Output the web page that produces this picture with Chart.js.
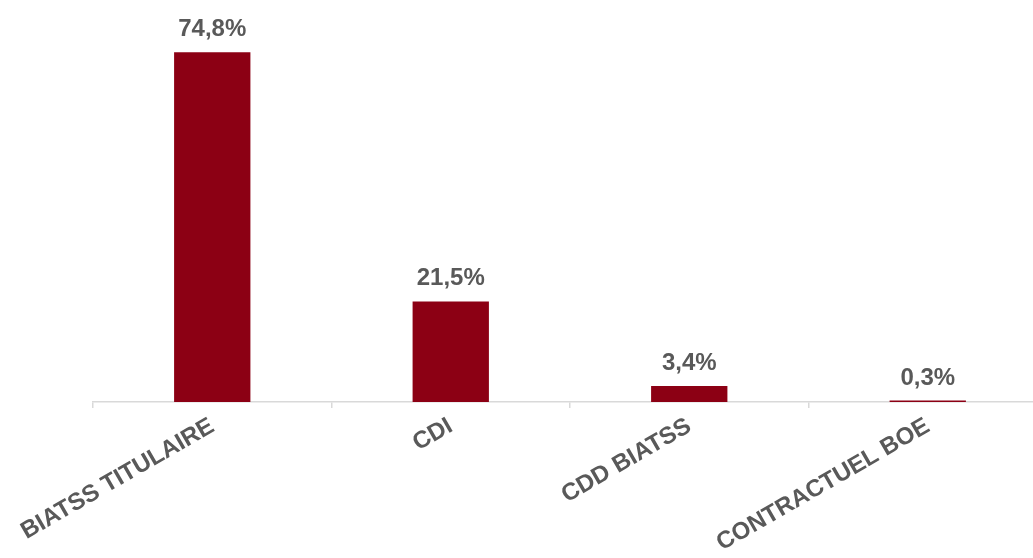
<!DOCTYPE html>
<html>
<head>
<meta charset="utf-8">
<script src="https://cdn.jsdelivr.net/npm/chart.js@4"></script>
<style>
  html, body { margin: 0; padding: 0; background: #fff; overflow: hidden; }
  #wrap { width: 1047px; height: 558px; }
</style>
</head>
<body>
<div id="wrap"><canvas id="barChart"></canvas></div>
<script>
const categories = ["BIATSS TITULAIRE", "CDI", "CDD BIATSS", "CONTRACTUEL BOE"];
const shares = [74.8, 21.5, 3.4, 0.3];
const yMax = 80;

const barColor = "#8C0014";
const textColor = "#595959";
const fontFamily = "'Liberation Sans', Arial, sans-serif";

// draws the value above each bar, French decimal comma
const valueLabels = {
  id: "valueLabels",
  afterDatasetsDraw(chart) {
    const ctx = chart.ctx;
    const meta = chart.getDatasetMeta(0);
    ctx.save();
    ctx.fillStyle = textColor;
    ctx.font = "bold 24px " + fontFamily;
    ctx.textAlign = "center";
    ctx.textBaseline = "alphabetic";
    meta.data.forEach((bar, i) => {
      const txt = shares[i].toFixed(1).replace(".", ",") + "%";
      ctx.fillText(txt, bar.x, bar.y - 16);
    });
    ctx.restore();
  },
};

const ctx = document.getElementById("barChart").getContext("2d");
new Chart(ctx, {
  type: "bar",
  data: {
    labels: categories,
    datasets: [
      {
        data: shares,
        backgroundColor: barColor,
        borderWidth: 0,
        barPercentage: 0.32,
        categoryPercentage: 1,
      },
    ],
  },
  options: {
    responsive: true,
    maintainAspectRatio: false,
    animation: false,
    layout: { padding: { left: 93, right: 0, top: 28, bottom: 0 } },
    plugins: { legend: { display: false }, tooltip: { enabled: false } },
    scales: {
      x: {
        grid: { offset: true, drawOnChartArea: false, drawTicks: true, tickLength: 6, color: "#d9d9d9", lineWidth: 1.5 },
        border: { color: "#d9d9d9", width: 1.5 },
        ticks: {
          color: textColor,
          font: { family: fontFamily, size: 24, weight: "bold" },
          minRotation: 30,
          maxRotation: 30,
          autoSkip: false,
          padding: 4,
        },
        afterFit: (s) => { s.height = 156; },
      },
      y: { display: false, min: 0, max: yMax },
    },
  },
  plugins: [valueLabels],
});
</script>
</body>
</html>
